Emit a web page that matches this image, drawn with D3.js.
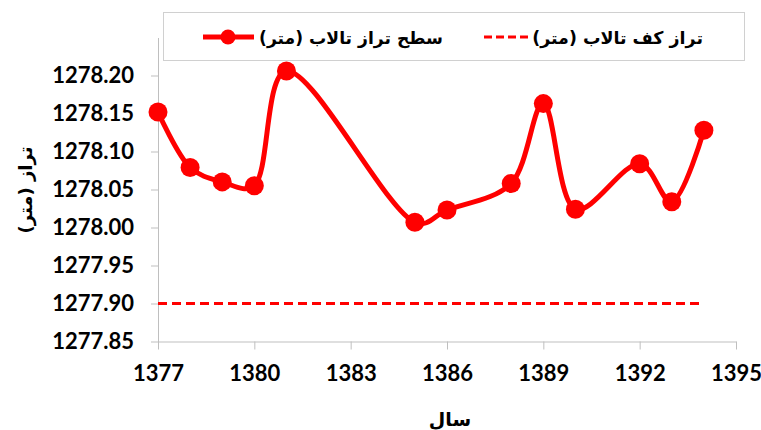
<!DOCTYPE html>
<html><head><meta charset="utf-8">
<script src="https://cdn.jsdelivr.net/npm/d3@7"></script>
<style>
body{margin:0;background:#fff;}
svg{display:block;}
.num{font-family:Lato,"Open Sans",sans-serif;font-weight:bold;font-size:22px;fill:#000;}
.fa{font-family:"DejaVu Sans",sans-serif;font-weight:bold;fill:#000;direction:rtl;unicode-bidi:embed;}
</style>
</head><body>
<svg id="c" width="761" height="430"></svg>
<script>
const years = [1377,1378,1379,1380,1381,1385,1386,1388,1389,1390,1392,1393,1394];
const levels = [1278.152,1278.079,1278.060,1278.055,1278.206,1278.007,1278.023,1278.058,1278.163,1278.024,1278.084,1278.034,1278.128];
const floorYears = [1377,1394];
const floorLevels = [1277.90,1277.90];
const xTicks = [1377,1380,1383,1386,1389,1392,1395];
const yTicks = [1277.85,1277.90,1277.95,1278.00,1278.05,1278.10,1278.15,1278.20];
const seriesNames = ["سطح تراز تالاب (متر)","تراز کف تالاب (متر)"];
const xTitle = "سال";
const yTitle = "تراز (متر)";

const svg = d3.select("#c");
const x = d3.scaleLinear().domain([1377,1395]).range([158,736]);
const y = d3.scaleLinear().domain([1277.85,1278.25]).range([341.5,37.5]);
const red = "#ff0000", gray="#bfbfbf";

const ya = svg.append("g").attr("transform","translate(158,0)")
  .call(d3.axisLeft(y).tickValues(yTicks).tickSize(7).tickSizeOuter(0).tickPadding(17).tickFormat(d3.format(".2f")));
ya.select(".domain").attr("stroke",gray);
ya.selectAll(".tick line").attr("stroke",gray);
ya.selectAll("text").attr("class","num").attr("font-size",null).attr("font-family",null);

const xa = svg.append("g").attr("transform","translate(0,341.5)")
  .call(d3.axisBottom(x).tickValues(xTicks).tickSize(8).tickSizeOuter(0).tickPadding(16).tickFormat(d3.format("d")));
xa.select(".domain").attr("stroke",gray);
xa.selectAll(".tick line").attr("stroke",gray);
xa.selectAll("text").attr("class","num").attr("font-size",null).attr("font-family",null);

// floor line
svg.append("path")
  .datum(floorYears.map((d,i)=>[d,floorLevels[i]]))
  .attr("d",d3.line().x(d=>x(d[0])).y(d=>y(d[1])))
  .attr("fill","none").attr("stroke",red).attr("stroke-width",3).attr("stroke-dasharray","9,5");

// main series
const pts = years.map((d,i)=>[d,levels[i]]);
svg.append("path").datum(pts)
  .attr("d",d3.line().x(d=>x(d[0])).y(d=>y(d[1])).curve(d3.curveCatmullRom.alpha(0.4)))
  .attr("fill","none").attr("stroke",red).attr("stroke-width",5).attr("stroke-linejoin","round");
svg.selectAll("circle.pt").data(pts).join("circle").attr("class","pt")
  .attr("cx",d=>x(d[0])).attr("cy",d=>y(d[1])).attr("r",9.5).attr("fill",red);

// legend
function fitText(t, w){
  const L = t.node().getComputedTextLength();
  const fs = parseFloat(t.attr("font-size"));
  t.attr("font-size", (fs*w/L).toFixed(2));
}
const lg = svg.append("g");
lg.append("rect").attr("x",163.5).attr("y",12.5).attr("width",581).attr("height",48)
  .attr("fill","#fff").attr("stroke","#d0d0d0").attr("stroke-width",1);
lg.append("line").attr("x1",203).attr("x2",254).attr("y1",37).attr("y2",37).attr("stroke",red).attr("stroke-width",5);
lg.append("circle").attr("cx",228).attr("cy",37).attr("r",7.5).attr("fill",red);
const t1 = lg.append("text").attr("class","fa").attr("x",443).attr("y",44).attr("text-anchor","start").attr("font-size",20).text(seriesNames[0]);
fitText(t1,184);
lg.append("line").attr("x1",484).attr("x2",529).attr("y1",37).attr("y2",37).attr("stroke",red).attr("stroke-width",3).attr("stroke-dasharray","8,4");
const t2 = lg.append("text").attr("class","fa").attr("x",703).attr("y",44).attr("text-anchor","start").attr("font-size",20).text(seriesNames[1]);
fitText(t2,171);

// titles
svg.append("text").attr("class","fa").attr("font-size",18).attr("text-anchor","middle")
  .attr("transform","translate(32,190) rotate(-90)").text(yTitle);
svg.append("text").attr("class","fa").attr("font-size",19).attr("text-anchor","middle")
  .attr("x",450).attr("y",426).text(xTitle);
</script>
</body></html>
